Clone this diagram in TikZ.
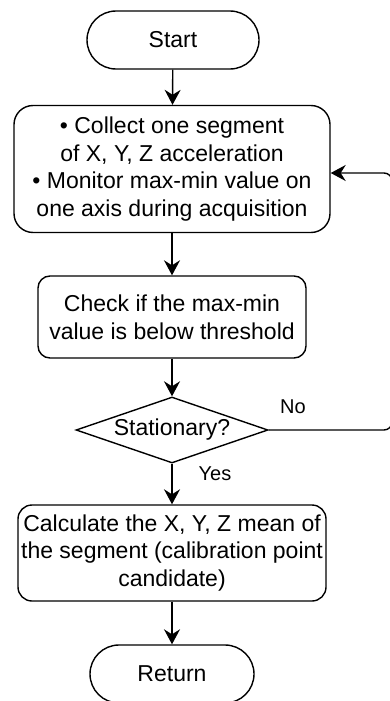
\documentclass[tikz,border=0pt]{standalone}
\usepackage{fontspec}
\setmainfont{Liberation Sans}
\usetikzlibrary{shapes.geometric,arrows.meta}
\begin{document}
\begin{tikzpicture}[x=1pt,y=-1pt,
  line width=1.4pt,
  every node/.style={font=\fontsize{23}{27.6}\selectfont, align=center, inner sep=0pt},
  term/.style={draw, rectangle, rounded corners=29pt, minimum width=172pt, minimum height=58pt},
  proc/.style={draw, rectangle},
  dec/.style={draw, diamond, aspect=2.9, minimum width=192pt, minimum height=66pt},
  lbl/.style={font=\fontsize{20}{24}\selectfont},
  arr/.style={-{Stealth[length=15pt,width=16pt,inset=5pt]}}
]
\useasboundingbox (0,0) rectangle (390,701);
\node[term] (start) at (173,40) {Start};
\node[proc, rounded corners=19pt, minimum width=316pt, minimum height=127pt] (collect) at (172,169)
  {• Collect one segment\\of X, Y, Z acceleration\\• Monitor max-min value on\\one axis during acquisition};
\node[proc, rounded corners=12pt, minimum width=268pt, minimum height=82pt] (check) at (172,317)
  {Check if the max-min\\value is below threshold};
\node[dec] (stat) at (172,430) {Stationary?};
\node[proc, rounded corners=14pt, minimum width=308pt, minimum height=96pt] (calc) at (172,553)
  {Calculate the X, Y, Z mean of\\the segment (calibration point\\candidate)};
\node[term, minimum width=164pt] (ret) at (172,674) {Return};
\node[lbl] (no) at (293,407) {No};
\node[lbl] (yes) at (215,474) {Yes};
\coordinate (c1) at (392,430);
\coordinate (c2) at (392,173);
\draw[arr] (start) -- (collect);
\draw[arr] (collect) -- (check);
\draw[arr] (check) -- (stat);
\draw[arr] (stat) -- (calc);
\draw[arr] (calc) -- (ret);
\draw[arr, rounded corners=8pt] (stat.east) -- (c1) -- (c2) -- (collect.east |- c2);
\end{tikzpicture}
\end{document}
